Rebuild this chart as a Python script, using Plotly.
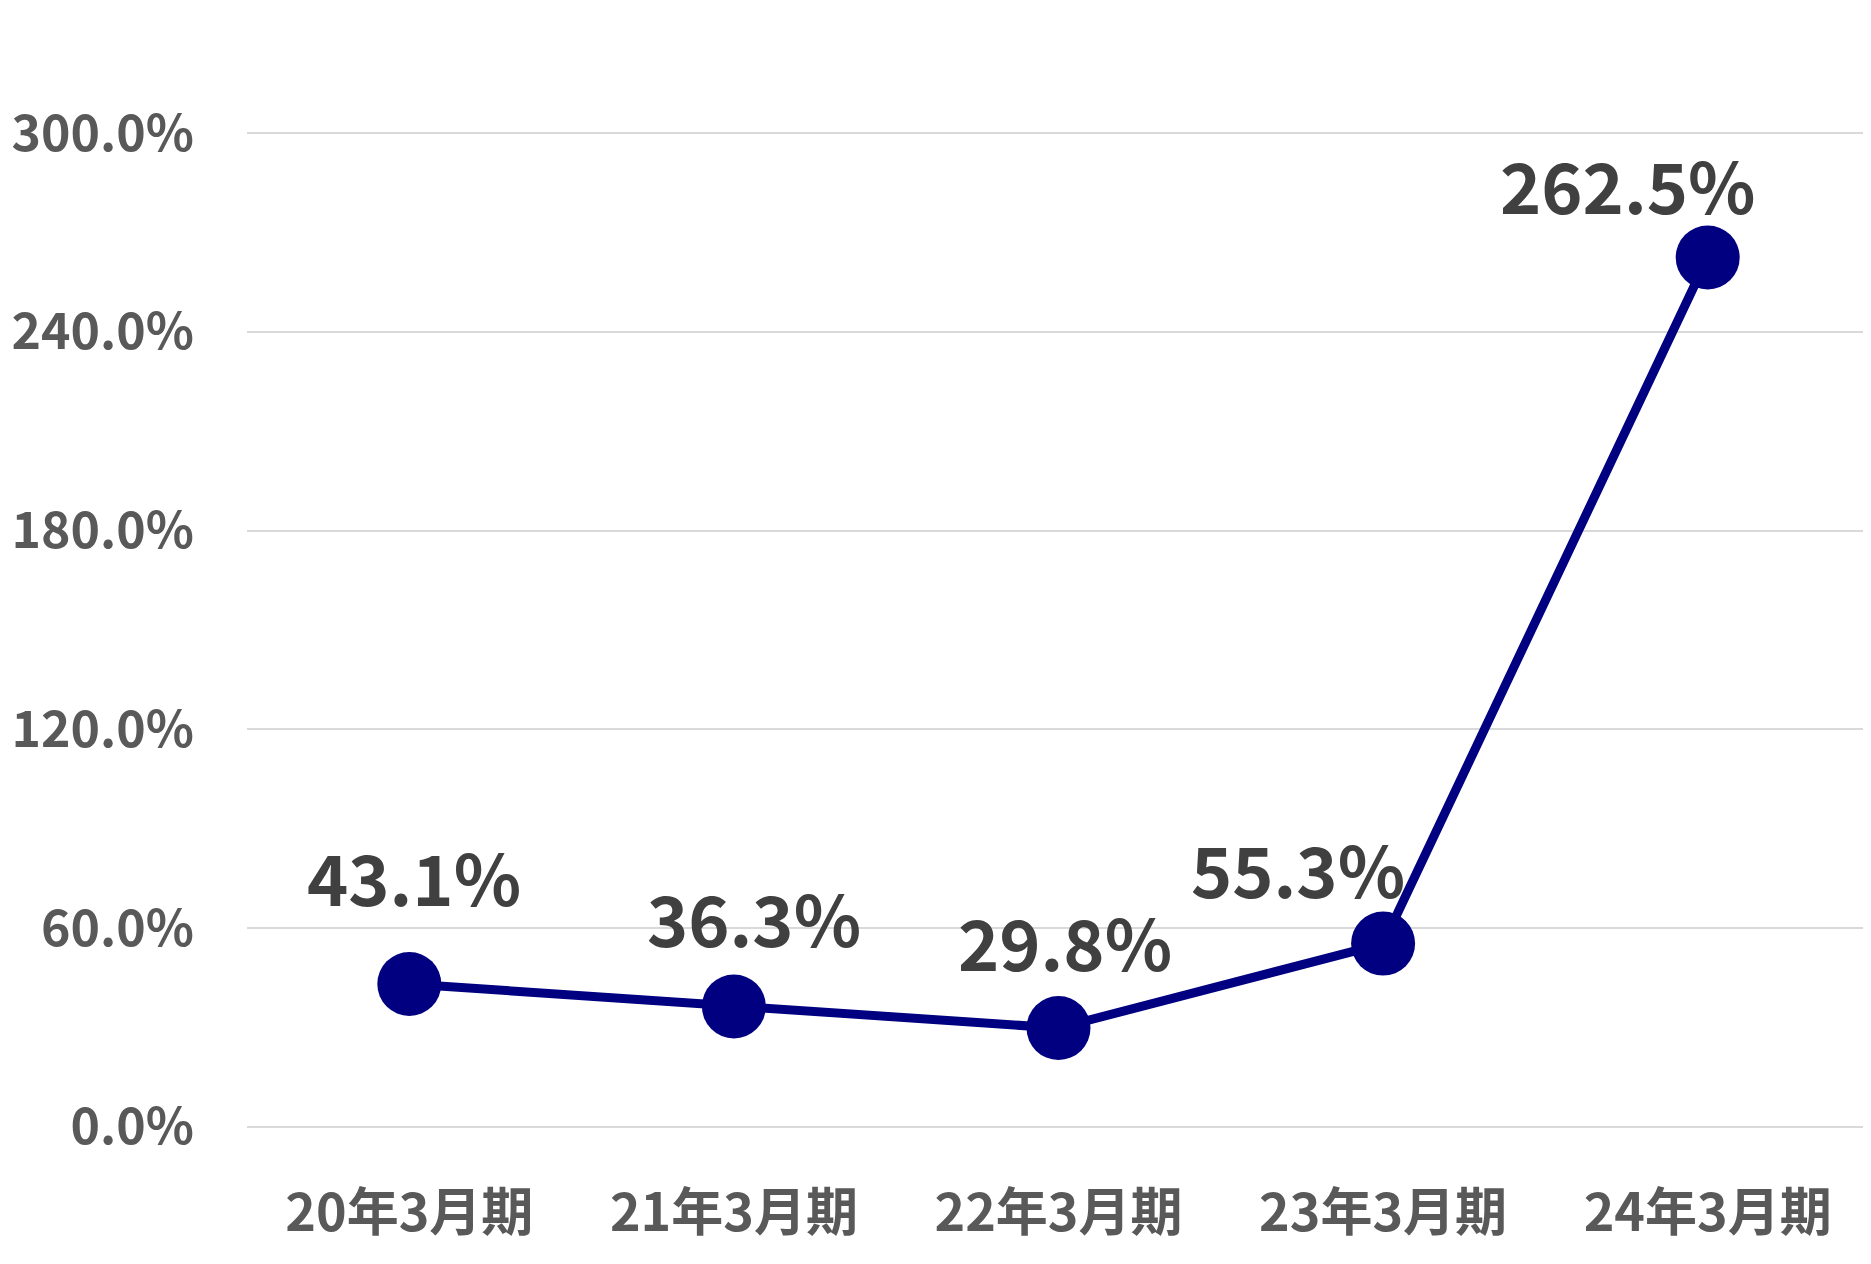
import plotly.graph_objects as go

# データ
kikan = ["20年3月期", "21年3月期", "22年3月期", "23年3月期", "24年3月期"]
ritsu = [43.1, 36.3, 29.8, 55.3, 262.5]
label_text = ["43.1%", "36.3%", "29.8%", "55.3%", "262.5%"]
y_ticks = [0, 60, 120, 180, 240, 300]
y_ticktext = ["0.0%", "60.0%", "120.0%", "180.0%", "240.0%", "300.0%"]

# ラベル位置の微調整 (px)
label_dx = [5, 20, 6, -85, -80]
label_dy = [108, 90, 88, 76, 74]

line_color = "#000080"
font_name = "Noto Sans CJK JP"

fig = go.Figure()

fig.add_trace(go.Scatter(
    x=kikan,
    y=ritsu,
    mode="lines+markers",
    line=dict(color=line_color, width=9),
    marker=dict(color=line_color, size=64),
    hoverinfo="skip",
    showlegend=False,
))

for k, v, t, dx, dy in zip(kikan, ritsu, label_text, label_dx, label_dy):
    fig.add_annotation(
        x=k, y=v, text=t,
        showarrow=False,
        xshift=dx, yshift=dy,
        font=dict(family=font_name, size=70, color="#404040", weight="bold"),
    )

fig.update_xaxes(
    range=[-0.5, 4.5],
    showgrid=False,
    showline=False,
    zeroline=False,
    tickfont=dict(family=font_name, size=52, color="#595959", weight="bold"),
    ticklabelstandoff=48,
)

fig.update_yaxes(
    range=[-1, 301],
    tickvals=y_ticks,
    ticktext=y_ticktext,
    showgrid=True,
    gridcolor="#d9d9d9",
    gridwidth=2,
    zeroline=True,
    zerolinecolor="#d9d9d9",
    zerolinewidth=2,
    showline=False,
    tickfont=dict(family=font_name, size=50, color="#595959", weight="bold"),
    ticklabelstandoff=52,
)

# ページ余白(8px)ぶん小さめに
fig.update_layout(
    width=1863,
    height=1256,
    margin=dict(l=239, r=1, t=122, b=134),
    plot_bgcolor="white",
    paper_bgcolor="white",
    font=dict(family=font_name),
)

fig.write_html("out.html")
